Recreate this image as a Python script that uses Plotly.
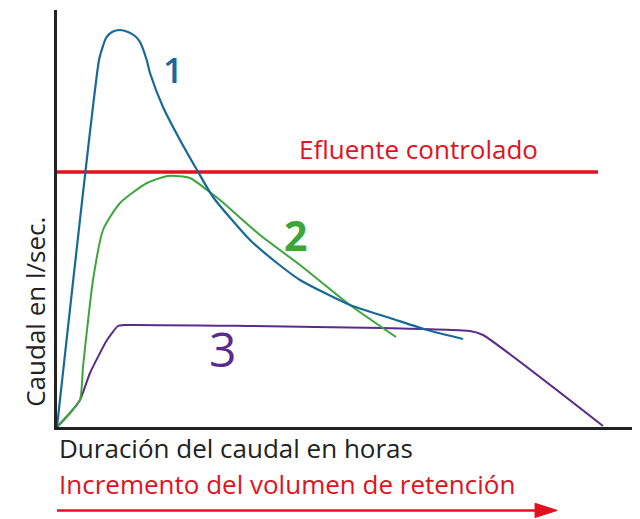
import plotly.graph_objects as go

# Data: x = duration (arbitrary units), y = flow (l/sec, arbitrary units)
x1 = [0, 4.2, 4.47, 4.9, 5.5, 6.3, 7.1, 7.8, 8.3, 8.97, 9.3, 10.6, 12.3, 14.0, 15.6, 19.3, 22.0, 24.3, 29.3, 33.3, 37.0, 40.6]
y1 = [0, 36.7, 37.7, 38.9, 39.5, 39.7, 39.5, 39.1, 38.5, 36.7, 35.4, 32.0, 28.7, 25.7, 23.0, 18.7, 16.4, 14.7, 12.2, 10.9, 9.7, 8.8]

x2 = [0, 1.3, 2.3, 2.6, 3.0, 3.6, 4.6, 6.3, 9.0, 11.1, 13.3, 15.0, 16.3, 20.3, 24.3, 29.3, 33.9]
y2 = [0, 1.4, 2.7, 6.0, 9.7, 14.7, 19.7, 22.4, 24.4, 25.1, 24.9, 23.7, 22.7, 19.2, 16.2, 12.2, 9.0]

x3 = [0, 1.3, 2.3, 3.3, 5.0, 6.1, 6.8, 19.3, 32.6, 41.3, 42.6, 54.6]
y3 = [0, 1.4, 2.7, 5.4, 8.7, 10.1, 10.2, 10.1, 9.9, 9.6, 9.2, 0.1]

controlled_y = 25.5
controlled_x = [0, 54.1]

series_labels = ["1", "2", "3"]
x_title = "Duración del caudal en horas"
x_title2 = "Incremento del volumen de retención"
y_title = "Caudal en l/sec."
line_label = "Efluente controlado"

BLUE = "#17699a"
GREEN = "#3ca63a"
PURPLE = "#5b2b8c"
RED = "#e3101e"
FONT = "Open Sans"

fig = go.Figure()
fig.add_trace(go.Scatter(x=controlled_x, y=[controlled_y, controlled_y], mode="lines",
                         line=dict(color=RED, width=3.5), hoverinfo="skip"))
fig.add_trace(go.Scatter(x=x3, y=y3, mode="lines", line=dict(color=PURPLE, width=2, shape="spline", smoothing=0.5)))
fig.add_trace(go.Scatter(x=x2, y=y2, mode="lines", line=dict(color=GREEN, width=2, shape="spline", smoothing=0.6)))
fig.add_trace(go.Scatter(x=x1, y=y1, mode="lines", line=dict(color=BLUE, width=2.2, shape="spline", smoothing=0.6)))

annotations = [
    dict(x=11.6, y=35.8, text=series_labels[0], font=dict(color=BLUE, size=35, family=FONT, weight=600)),
    dict(x=23.8, y=19.2, text="<b>" + series_labels[1] + "</b>", font=dict(color=GREEN, size=41, family=FONT)),
    dict(x=16.5, y=7.9, text=series_labels[2], font=dict(color=PURPLE, size=48, family=FONT)),
    dict(x=36.1, y=27.8, text=line_label, font=dict(color=RED, size=26, family=FONT)),
    dict(x=0, y=-0.05, xref="paper", yref="paper", xanchor="left", yanchor="middle", text=x_title,
         font=dict(color="#222222", size=26, family=FONT)),
    dict(x=0, y=-0.137, xref="paper", yref="paper", xanchor="left", yanchor="middle", text=x_title2,
         font=dict(color=RED, size=26, family=FONT)),
    dict(x=-0.038, y=0.276, xref="paper", yref="paper", xanchor="center", yanchor="middle",
         textangle=-90, text=y_title, font=dict(color="#222222", size=26, family=FONT)),
]
for a in annotations:
    a.setdefault("xref", "x")
    a.setdefault("yref", "y")
    a.setdefault("xanchor", "center")
    a.setdefault("yanchor", "middle")
    a["showarrow"] = False

fig.update_layout(
    width=632, height=511,
    margin=dict(l=49, r=0, t=2, b=92),
    paper_bgcolor="white", plot_bgcolor="white",
    showlegend=False,
    annotations=annotations,
    shapes=[
        dict(type="line", xref="paper", yref="paper", x0=0, x1=0.83, y0=-0.2, y1=-0.2,
             line=dict(color=RED, width=2.5)),
        dict(type="path", xref="paper", yref="paper",
             path="M 0.82 -0.183 L 0.858 -0.2 L 0.82 -0.217 Z",
             fillcolor=RED, line=dict(color=RED, width=1)),
    ],
)
fig.update_xaxes(range=[0, 58.3], showgrid=False, zeroline=False, showticklabels=False, ticks="",
                 showline=True, linecolor="#222222", linewidth=3, mirror=False)
fig.update_yaxes(range=[0, 41.7], showgrid=False, zeroline=False, showticklabels=False, ticks="",
                 showline=True, linecolor="#222222", linewidth=3, mirror=False)

fig.write_html("out.html")
